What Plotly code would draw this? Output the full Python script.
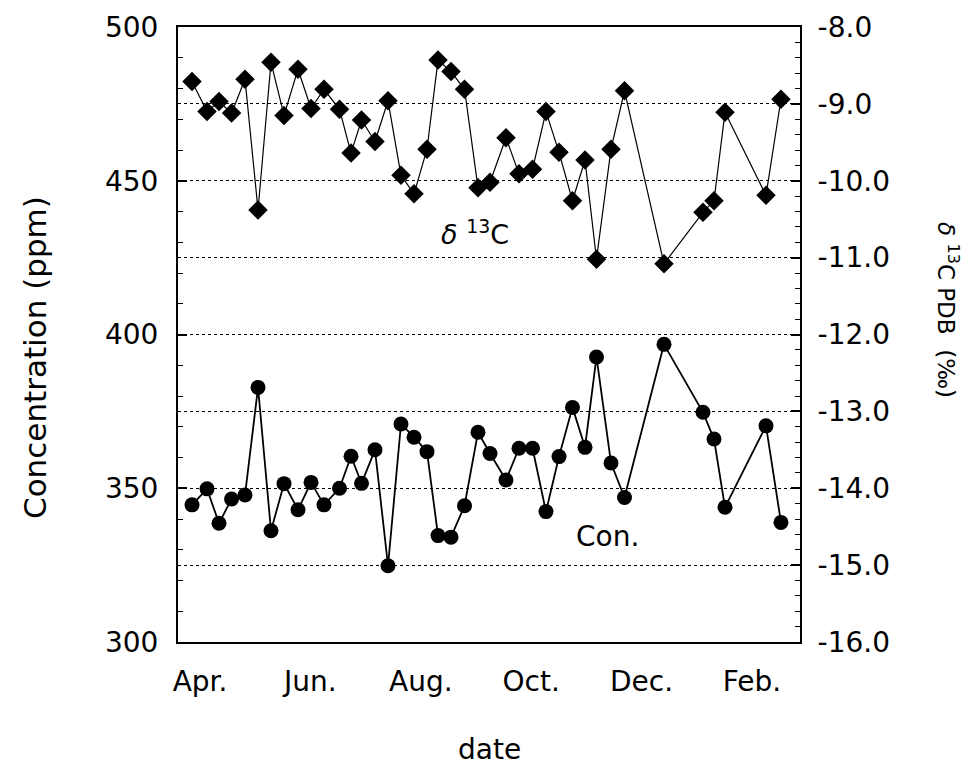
import plotly.graph_objects as go

# x positions: months after the "Apr." tick
months = [-0.145, 0.127, 0.344, 0.571, 0.815, 1.051, 1.286, 1.522, 1.775, 2.011,
          2.246, 2.527, 2.736, 2.926, 3.170, 3.406, 3.641, 3.877, 4.112, 4.312,
          4.547, 4.792, 5.036, 5.254, 5.543, 5.779, 6.024, 6.268, 6.504, 6.748,
          6.975, 7.183, 7.446, 7.690, 8.406, 9.112, 9.312, 9.511, 10.254, 10.525]

# delta 13C PDB (permil), right axis
d13c = [-8.71, -9.10, -8.97, -9.12, -8.68, -10.38, -8.46, -9.15, -8.55, -9.06,
        -8.81, -9.07, -9.64, -9.21, -9.49, -8.96, -9.93, -10.17, -9.59, -8.43,
        -8.58, -8.81, -10.09, -10.02, -9.44, -9.91, -9.85, -9.10, -9.63, -10.26,
        -9.73, -11.02, -9.59, -8.83, -11.08, -10.41, -10.26, -9.11, -10.19, -8.94]

# concentration (ppm), left axis
conc = [344.6, 349.8, 338.6, 346.5, 347.8, 382.8, 336.2, 351.5, 343.0, 351.9,
        344.6, 350.0, 360.4, 351.6, 362.5, 324.8, 370.9, 366.6, 361.9, 334.6,
        334.1, 344.3, 368.2, 361.3, 352.7, 363.0, 363.0, 342.4, 360.3, 376.3,
        363.3, 392.7, 358.2, 347.0, 396.8, 374.7, 366.0, 343.8, 370.3, 338.9]

x_tickvals = [0, 2, 4, 6, 8, 10]
x_ticktext = ["Apr.", "Jun.", "Aug.", "Oct.", "Dec.", "Feb."]
y_tickvals = [300, 350, 400, 450, 500]
y2_tickvals = [-8, -9, -10, -11, -12, -13, -14, -15, -16]
y2_ticktext = ["-8.0", "-9.0", "-10.0", "-11.0", "-12.0", "-13.0", "-14.0", "-15.0", "-16.0"]

FONT = "DejaVu Sans, Verdana, sans-serif"

# page has an 8px body margin; figure is sized so plot area lands at
# x 178..800, y 27..642 of the window
W, H = 963, 758
ML, MR, MT, MB = 170, 171, 19, 124
PX0, PX1, PY0, PY1 = 178, 800, 27, 642


def px_to_paper(px, py):
    return (px - PX0) / (PX1 - PX0), (PY1 - py) / (PY1 - PY0)


fig = go.Figure()
fig.add_trace(go.Scatter(
    x=months, y=d13c, yaxis="y2", mode="lines+markers",
    line=dict(color="black", width=1.2),
    marker=dict(symbol="diamond", size=15, color="black"),
    showlegend=False))
fig.add_trace(go.Scatter(
    x=months, y=conc, yaxis="y", mode="lines+markers",
    line=dict(color="black", width=1.8),
    marker=dict(symbol="circle", size=15, color="black"),
    showlegend=False))

lt_x, lt_y = px_to_paper(35, 358)
rt_x, rt_y = px_to_paper(948, 310)
xt_x, xt_y = px_to_paper(489, 749)

fig.update_layout(
    width=W, height=H,
    margin=dict(l=ML, r=MR, t=MT, b=MB, autoexpand=False),
    paper_bgcolor="white", plot_bgcolor="white",
    font=dict(family=FONT, size=28, color="black"),
    xaxis=dict(
        range=[-0.399, 10.87], tickvals=x_tickvals, ticktext=x_ticktext,
        showgrid=False, zeroline=False, ticks="", automargin=False,
        showline=True, linecolor="black", linewidth=2, mirror=True,
        ticklabelstandoff=13,
        tickfont=dict(size=28)),
    yaxis=dict(
        range=[300, 500], tickvals=y_tickvals, automargin=False,
        showgrid=False, zeroline=False,
        showline=True, linecolor="black", linewidth=2,
        ticks="inside", ticklen=9, tickwidth=1.5, tickcolor="black",
        minor=dict(dtick=10, ticks="inside", ticklen=5, tickwidth=1, tickcolor="black", showgrid=False),
        ticklabelstandoff=12,
        tickfont=dict(size=28)),
    yaxis2=dict(
        range=[-16, -8], overlaying="y", side="right", automargin=False,
        tickvals=y2_tickvals, ticktext=y2_ticktext,
        showgrid=True, gridcolor="black", gridwidth=1, griddash="dot",
        zeroline=False,
        showline=True, linecolor="black", linewidth=2,
        ticks="inside", ticklen=9, tickwidth=1.5, tickcolor="black",
        minor=dict(dtick=0.2, ticks="inside", ticklen=5, tickwidth=1, tickcolor="black", showgrid=False),
        ticklabelstandoff=10,
        tickfont=dict(size=28)),
    annotations=[
        dict(x=4.98, y=-10.67, xref="x", yref="y2",
             text="<i>δ</i> <sup>13</sup>C", showarrow=False,
             xanchor="center", yanchor="middle",
             font=dict(size=27, family=FONT)),
        dict(x=7.39, y=334.2, xref="x", yref="y",
             text="Con.", showarrow=False, xanchor="center", yanchor="middle",
             font=dict(size=28, family=FONT)),
        dict(x=xt_x, y=xt_y, xref="paper", yref="paper",
             text="date", showarrow=False, xanchor="center", yanchor="middle",
             font=dict(size=28, family=FONT)),
        dict(x=lt_x, y=lt_y, xref="paper", yref="paper",
             text="Concentration (ppm)", showarrow=False,
             xanchor="center", yanchor="middle",
             textangle=-90, font=dict(size=31, family=FONT)),
        dict(x=rt_x, y=rt_y, xref="paper", yref="paper",
             text="<i>δ</i> <sup>13</sup>C PDB  (‰)", showarrow=False,
             xanchor="center", yanchor="middle",
             textangle=90, font=dict(size=23, family=FONT)),
    ],
)

fig.write_html("out.html")
